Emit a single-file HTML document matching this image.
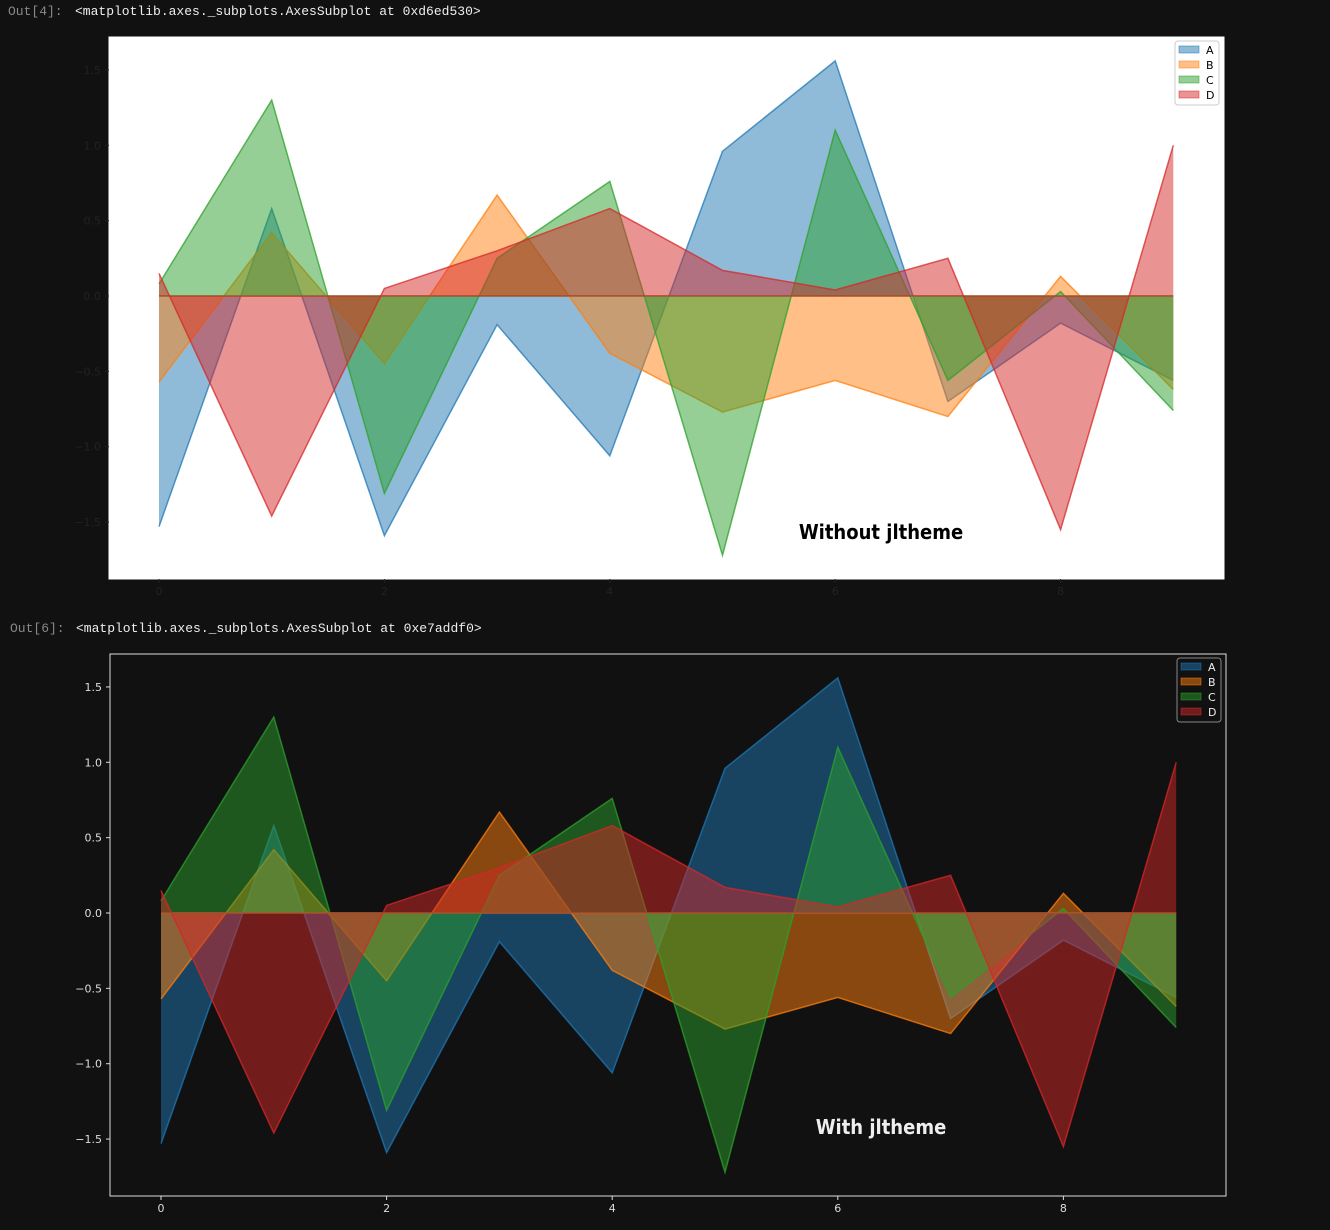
<!DOCTYPE html>
<html><head><meta charset="utf-8"><style>
body{margin:0;background:#111111;width:1330px;height:1230px;overflow:hidden;font-family:"Liberation Mono",monospace;}
.out{position:absolute;font-size:13px;color:#888;}
.code{position:absolute;font-size:13px;color:#eee;}
svg{position:absolute;left:0;top:0;}
</style></head><body>
<div class="out" style="left:8px;top:4px">Out[4]:</div>
<div class="code" style="left:75px;top:4px">&lt;matplotlib.axes._subplots.AxesSubplot at 0xd6ed530&gt;</div>
<div class="out" style="left:10px;top:621px">Out[6]:</div>
<div class="code" style="left:76px;top:621px">&lt;matplotlib.axes._subplots.AxesSubplot at 0xe7addf0&gt;</div>
<svg id="s" width="1330" height="1230" xmlns="http://www.w3.org/2000/svg"></svg>
<script>
const categories=[0,1,2,3,4,5,6,7,8,9];
const seriesNames=["A","B","C","D"];
const seriesA=[-1.53,0.58,-1.59,-0.19,-1.06,0.96,1.56,-0.70,-0.18,-0.56];
const seriesB=[-0.57,0.42,-0.45,0.67,-0.38,-0.77,-0.56,-0.80,0.13,-0.62];
const seriesC=[0.08,1.30,-1.31,0.25,0.76,-1.72,1.10,-0.56,0.03,-0.76];
const seriesD=[0.15,-1.46,0.05,0.30,0.58,0.17,0.04,0.25,-1.55,1.00];
const yTicks=[-1.5,-1.0,-0.5,0.0,0.5,1.0,1.5];
const xTicks=[0,2,4,6,8];
const colors=["#1f77b4","#ff7f0e","#2ca02c","#d62728"];
const allSeries=[seriesA,seriesB,seriesC,seriesD];
const NS="http://www.w3.org/2000/svg";
const svg=document.getElementById('s');
function mk(tag,attrs,parent){const e=document.createElementNS(NS,tag);for(const k in attrs)e.setAttribute(k,attrs[k]);(parent||svg).appendChild(e);return e;}
function fmt(v){return (v<0?"\u2212":"")+Math.abs(v).toFixed(1);}
function chart(cfg){
  const g=mk('g',{});
  
  
  const xs=v=>cfg.x0+v*cfg.xu, ys=v=>cfg.y0-v*cfg.yu;
  const bg=mk('rect',{x:cfg.L,y:cfg.T,width:cfg.R-cfg.L,height:cfg.B-cfg.T,fill:cfg.bg,stroke:cfg.frame,'stroke-width':1},g);
  
  
  allSeries.forEach((s,i)=>{
    let d="M"+xs(categories[0])+","+ys(0);
    s.forEach((v,j)=>{d+=" L"+xs(categories[j])+","+ys(v);});
    d+=" L"+xs(categories[categories.length-1])+","+ys(0)+" Z";
    const a=mk('path',{d:d,fill:colors[i],'fill-opacity':0.5,stroke:'none'},g);
    
    
    const pts=s.map((v,j)=>xs(categories[j])+","+ys(v)).join(" ");
    const l=mk('polyline',{points:pts,fill:'none',stroke:colors[i],'stroke-opacity':0.75,'stroke-width':1.5},g);
    
    
    const z=mk('line',{x1:xs(0),x2:xs(9),y1:ys(0),y2:ys(0),stroke:colors[i],'stroke-opacity':0.5,'stroke-width':1.5},g);
    
    
  });
  yTicks.forEach(t=>{
    const y=ys(t);
    mk('line',{x1:cfg.L-4,x2:cfg.L,y1:y,y2:y,stroke:cfg.tick},g);
    const tx=mk('text',{x:cfg.L-8,y:y+4,'text-anchor':'end','font-size':11,fill:cfg.tick,'font-family':'"DejaVu Sans",sans-serif'},g);
    tx.textContent=fmt(t);
    
    
  });
  xTicks.forEach(t=>{
    const x=xs(t);
    mk('line',{x1:x,x2:x,y1:cfg.B,y2:cfg.B+4,stroke:cfg.tick},g);
    const tx=mk('text',{x:x,y:cfg.B+16,'text-anchor':'middle','font-size':11,fill:cfg.tick,'font-family':'"DejaVu Sans",sans-serif'},g);
    tx.textContent=t;
    
    
  });
  const lg=mk('g',{},g);
  
  
  mk('rect',{x:cfg.lgx,y:cfg.lgy,width:44,height:64,rx:3,fill:cfg.bg,stroke:cfg.lgStroke},lg);
  seriesNames.forEach((n,i)=>{
    const yy=cfg.lgy+5+i*15;
    mk('rect',{x:cfg.lgx+4,y:yy,width:20,height:7,fill:colors[i],'fill-opacity':0.5,stroke:colors[i],'stroke-opacity':0.5},lg);
    const tx=mk('text',{x:cfg.lgx+31,y:yy+8,'font-size':11,fill:cfg.text,'font-family':'"DejaVu Sans",sans-serif'},lg);
    tx.textContent=n;
    
    
  });
  const an=mk('text',{x:cfg.annX,y:cfg.annY,'text-anchor':'middle','font-size':20,'font-weight':'bold',fill:cfg.text,'font-family':'"DejaVu Sans Condensed","Liberation Sans Narrow",sans-serif'},g);
  an.textContent=cfg.ann;
  
  
}
chart({name:'chart-without-theme',L:109,R:1224,T:37,B:579,x0:159,xu:112.7,y0:296,yu:150.7,bg:'#ffffff',frame:'#ffffff',tick:'#222',text:'#000',lgStroke:'#ccc',lgx:1175,lgy:41,ann:'Without jltheme',annX:881,annY:539});
chart({name:'chart-with-theme',L:110,R:1226,T:654,B:1196,x0:161,xu:112.8,y0:913,yu:150.7,bg:'#111111',frame:'#dddddd',tick:'#dddddd',text:'#eeeeee',lgStroke:'#888',lgx:1177,lgy:658,ann:'With jltheme',annX:881,annY:1134});
</script>
</body></html>
